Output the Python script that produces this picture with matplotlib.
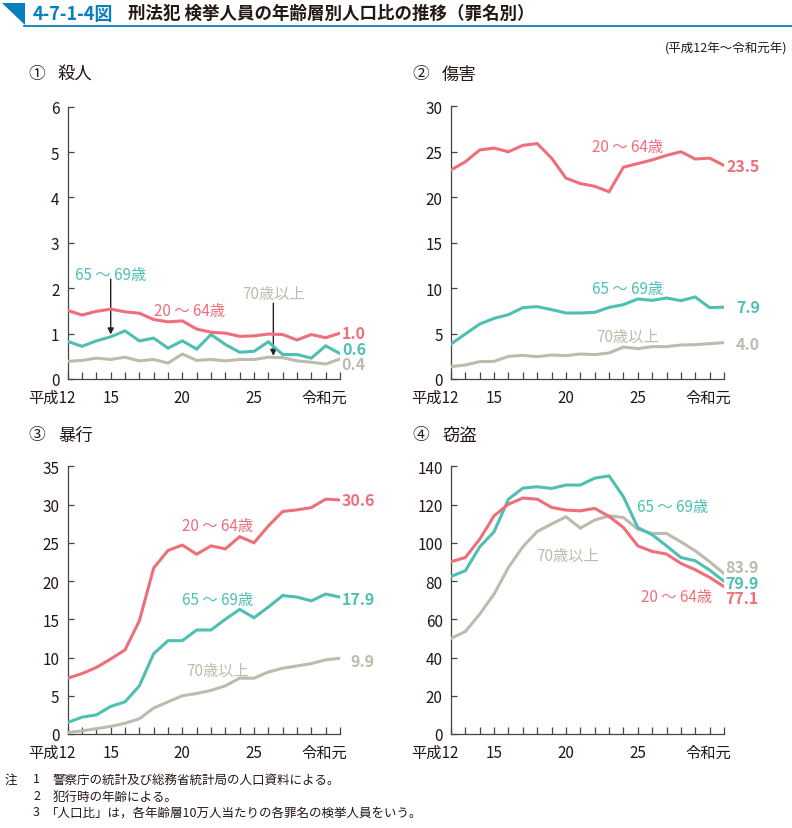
import matplotlib
matplotlib.use("Agg")
import matplotlib.pyplot as plt
from matplotlib.patches import Polygon
from matplotlib.lines import Line2D
import matplotlib.transforms as mtransforms

plt.rcParams['font.family'] = ['Noto Sans CJK JP', 'DejaVu Sans']

# ---------------- data ----------------
years = list(range(12, 32))  # 平成12 ... 令和元 (H31)
xtick_pos = [12, 15, 20, 25, 31]
xtick_labels = ["平成12", "15", "20", "25", "令和元"]

# ① 殺人
murder_20_64 = [1.51, 1.41, 1.49, 1.54, 1.48, 1.45, 1.31, 1.26, 1.28, 1.10,
                1.03, 1.01, 0.94, 0.95, 0.99, 0.98, 0.86, 0.98, 0.91, 1.01]
murder_65_69 = [0.83, 0.72, 0.84, 0.93, 1.06, 0.84, 0.90, 0.68, 0.84, 0.66,
                0.98, 0.76, 0.59, 0.61, 0.82, 0.54, 0.54, 0.46, 0.73, 0.56]
murder_70 = [0.39, 0.41, 0.46, 0.43, 0.48, 0.40, 0.43, 0.35, 0.55, 0.41,
             0.43, 0.40, 0.43, 0.43, 0.48, 0.47, 0.40, 0.37, 0.33, 0.44]

# ② 傷害
injury_20_64 = [23.0, 23.9, 25.2, 25.4, 25.0, 25.7, 25.9, 24.3, 22.1, 21.5,
                21.2, 20.6, 23.3, 23.7, 24.1, 24.6, 25.0, 24.2, 24.3, 23.5]
injury_65_69 = [3.85, 4.95, 6.05, 6.67, 7.08, 7.85, 7.96, 7.63, 7.26, 7.26,
                7.33, 7.88, 8.18, 8.80, 8.65, 8.91, 8.62, 9.02, 7.85, 7.9]
injury_70 = [1.36, 1.54, 1.91, 1.94, 2.49, 2.60, 2.46, 2.64, 2.57, 2.75,
             2.68, 2.86, 3.52, 3.34, 3.56, 3.56, 3.74, 3.78, 3.89, 4.0]

# ③ 暴行
assault_20_64 = [7.3, 7.9, 8.7, 9.8, 11.0, 14.8, 21.7, 24.0, 24.7, 23.5,
                 24.6, 24.2, 25.8, 25.0, 27.2, 29.1, 29.3, 29.6, 30.7, 30.6]
assault_65_69 = [1.5, 2.2, 2.5, 3.6, 4.2, 6.3, 10.5, 12.2, 12.2, 13.6,
                 13.6, 15.0, 16.3, 15.2, 16.6, 18.1, 17.9, 17.4, 18.3, 17.9]
assault_70 = [0.2, 0.4, 0.7, 1.0, 1.4, 2.0, 3.4, 4.2, 5.0, 5.3,
              5.7, 6.3, 7.3, 7.3, 8.1, 8.6, 8.9, 9.2, 9.7, 9.9]

# ④ 窃盗
theft_20_64 = [90.1, 92.3, 101.9, 114.1, 120.2, 123.4, 122.8, 118.5, 117.1, 116.7,
               118.0, 113.8, 108.0, 98.4, 95.5, 94.1, 89.2, 85.9, 81.9, 77.1]
theft_65_69 = [82.4, 85.4, 97.9, 105.8, 122.8, 128.6, 129.3, 128.4, 130.2, 130.2,
               133.8, 135.0, 124.1, 108.0, 104.2, 98.4, 92.3, 90.6, 85.7, 79.9]
theft_70 = [50.0, 53.6, 62.7, 73.2, 87.1, 97.9, 105.9, 109.8, 113.6, 107.7,
            111.9, 114.1, 113.2, 107.1, 104.9, 104.9, 100.5, 95.8, 90.1, 83.9]

end_labels = {
    "murder": ["1.0", "0.6", "0.4"],
    "injury": ["23.5", "7.9", "4.0"],
    "assault": ["30.6", "17.9", "9.9"],
    "theft": ["77.1", "79.9", "83.9"],
}

RED = "#EE6F79"
TEAL = "#4FBFB4"
GRAY = "#BDBBAD"
DARK = "#231815"
BLUE = "#0A7FC0"

W, H = 792, 829
fig = plt.figure(figsize=(W / 100, H / 100), dpi=100)


def fx(x):
    return x / W


def fy(y):
    return 1 - y / H


def make_axes(left, right, top, bottom):
    return fig.add_axes([fx(left), fy(bottom), (right - left) / W, (bottom - top) / H])


def style(ax, ymax, ystep):
    ax.set_xlim(12, 31)
    ax.set_ylim(0, ymax)
    for s in ["top", "right"]:
        ax.spines[s].set_visible(False)
    for s in ["left", "bottom"]:
        ax.spines[s].set_color("#444444")
        ax.spines[s].set_linewidth(0.9)
    ax.set_xticks(years)
    ax.set_xticklabels([])
    ax.set_yticks(list(range(0, ymax + 1, ystep)))
    ax.tick_params(axis="x", direction="in", length=5, width=0.9, color="#444444")
    ax.tick_params(axis="y", direction="in", length=4, width=0.9, color="#444444",
                   labelsize=11, labelcolor=DARK, pad=6)
    trans = mtransforms.blended_transform_factory(ax.transData, ax.transAxes)
    for pos, lab in zip(xtick_pos, xtick_labels):
        off = 0
        ha = "center"
        if lab == "平成12":
            ha = "right"
            off = 8
        elif lab == "令和元":
            ha = "right"
            off = 7
        t = trans + mtransforms.ScaledTranslation(off / 100, -10 / 100, fig.dpi_scale_trans)
        ax.text(pos, 0, lab, transform=t, ha=ha, va="top", fontsize=11, color=DARK)


def plot3(ax, a, b, c):
    ax.plot(years, c, color=GRAY, lw=2.2, solid_joinstyle="miter", zorder=3)
    ax.plot(years, b, color=TEAL, lw=2.2, solid_joinstyle="miter", zorder=4)
    ax.plot(years, a, color=RED, lw=2.2, solid_joinstyle="miter", zorder=5)


# ---------- panel 1 ----------
ax1 = make_axes(67.7, 340, 107.7, 380)
style(ax1, 6, 1)
plot3(ax1, murder_20_64, murder_65_69, murder_70)
ax1.text(15.0, 2.31, "65 ～ 69歳", color=TEAL, fontsize=11, ha="center", va="center")
ax1.text(20.47, 1.52, "20 ～ 64歳", color=RED, fontsize=11, ha="center", va="center")
ax1.text(26.4, 1.89, "70歳以上", color=GRAY, fontsize=11, ha="center", va="center")
ax1.annotate("", xy=(15.0, 0.98), xytext=(15.0, 2.2),
             arrowprops=dict(arrowstyle="-|>", color="#222222", lw=1.0,
                             mutation_scale=9, shrinkA=0, shrinkB=0))
ax1.annotate("", xy=(26.35, 0.51), xytext=(26.35, 1.67),
             arrowprops=dict(arrowstyle="-|>", color="#222222", lw=1.0,
                             mutation_scale=9, shrinkA=0, shrinkB=0))
for lab, yv, col in zip(end_labels["murder"], [1.01, 0.66, 0.33], [RED, TEAL, GRAY]):
    ax1.text(32.8, yv, lab, color=col, fontsize=11.5, fontweight="bold",
             ha="right", va="center", clip_on=False)

# ---------- panel 2 ----------
ax2 = make_axes(451, 724, 107.3, 380)
style(ax2, 30, 5)
plot3(ax2, injury_20_64, injury_65_69, injury_70)
ax2.text(24.3, 25.6, "20 ～ 64歳", color=RED, fontsize=11, ha="center", va="center")
ax2.text(24.3, 10.0, "65 ～ 69歳", color=TEAL, fontsize=11, ha="center", va="center")
ax2.text(24.3, 4.7, "70歳以上", color=GRAY, fontsize=11, ha="center", va="center")
for lab, yv, col in zip(end_labels["injury"], [23.4, 7.9, 3.9], [RED, TEAL, GRAY]):
    ax2.text(33.5, yv, lab, color=col, fontsize=11.5, fontweight="bold",
             ha="right", va="center", clip_on=False)

# ---------- panel 3 ----------
ax3 = make_axes(67.7, 340, 467.3, 735)
style(ax3, 35, 5)
plot3(ax3, assault_20_64, assault_65_69, assault_70)
ax3.text(22.47, 27.2, "20 ～ 64歳", color=RED, fontsize=11, ha="center", va="center")
ax3.text(22.47, 17.6, "65 ～ 69歳", color=TEAL, fontsize=11, ha="center", va="center")
ax3.text(22.47, 8.4, "70歳以上", color=GRAY, fontsize=11, ha="center", va="center")
for lab, yv, col in zip(end_labels["assault"], [30.6, 17.6, 9.6], [RED, TEAL, GRAY]):
    ax3.text(33.44, yv, lab, color=col, fontsize=11.5, fontweight="bold",
             ha="right", va="center", clip_on=False)

# ---------- panel 4 ----------
ax4 = make_axes(451, 724, 467.3, 735)
style(ax4, 140, 20)
plot3(ax4, theft_20_64, theft_65_69, theft_70)
ax4.text(27.4, 119.1, "65 ～ 69歳", color=TEAL, fontsize=11, ha="center", va="center")
ax4.text(20.1, 93.5, "70歳以上", color=GRAY, fontsize=11, ha="center", va="center")
ax4.text(27.7, 72.1, "20 ～ 64歳", color=RED, fontsize=11, ha="center", va="center")
for lab, yv, col in zip(end_labels["theft"], [71.1, 78.9, 87.2], [RED, TEAL, GRAY]):
    ax4.text(33.4, yv, lab, color=col, fontsize=11.5, fontweight="bold",
             ha="right", va="center", clip_on=False)

# ---------- panel titles ----------
for (x, y, num, name) in [(28, 75, "①", "殺人"), (412, 75, "②", "傷害"),
                          (28, 436, "③", "暴行"), (412, 436, "④", "窃盗")]:
    fig.text(fx(x), fy(y), num, fontsize=12, color=DARK, va="center", ha="left")
    fig.text(fx(x + 30), fy(y), name, fontsize=12.5, color=DARK, va="center", ha="left")

# ---------- header ----------
tri = Polygon([[fx(2), fy(4)], [fx(25), fy(4)], [fx(25), fy(26)]], closed=True,
              transform=fig.transFigure, facecolor=BLUE, edgecolor="none")
fig.patches.append(tri)
fig.add_artist(Line2D([fx(24), fx(792)], [fy(26.5), fy(26.5)], transform=fig.transFigure,
                      color=BLUE, lw=1.3))
fig.text(fx(33), fy(14), "4-7-1-4図", fontsize=13, fontweight="bold", color=BLUE,
         va="center", ha="left")
fig.text(fx(128), fy(14), "刑法犯 検挙人員の年齢層別人口比の推移（罪名別）", fontsize=12.6,
         fontweight="bold", color=DARK, va="center", ha="left")
fig.text(fx(787), fy(49), "(平成12年～令和元年)", fontsize=9, color=DARK,
         va="center", ha="right")

# ---------- notes ----------
notes = [
    ("注", "1", "警察庁の統計及び総務省統計局の人口資料による。", 780),
    ("", "2", "犯行時の年齢による。", 797),
    ("", "3", "「人口比」は，各年齢層10万人当たりの各罪名の検挙人員をいう。", 813),
]
for head, num, txt, y in notes:
    if head:
        fig.text(fx(5), fy(y), head, fontsize=9, color=DARK, va="center", ha="left")
    fig.text(fx(33), fy(y), num, fontsize=9, color=DARK, va="center", ha="left")
    xoff = 46 if txt.startswith("「") else 53
    fig.text(fx(xoff), fy(y), txt, fontsize=9, color=DARK, va="center", ha="left")

fig.savefig("out.png", dpi=100)
